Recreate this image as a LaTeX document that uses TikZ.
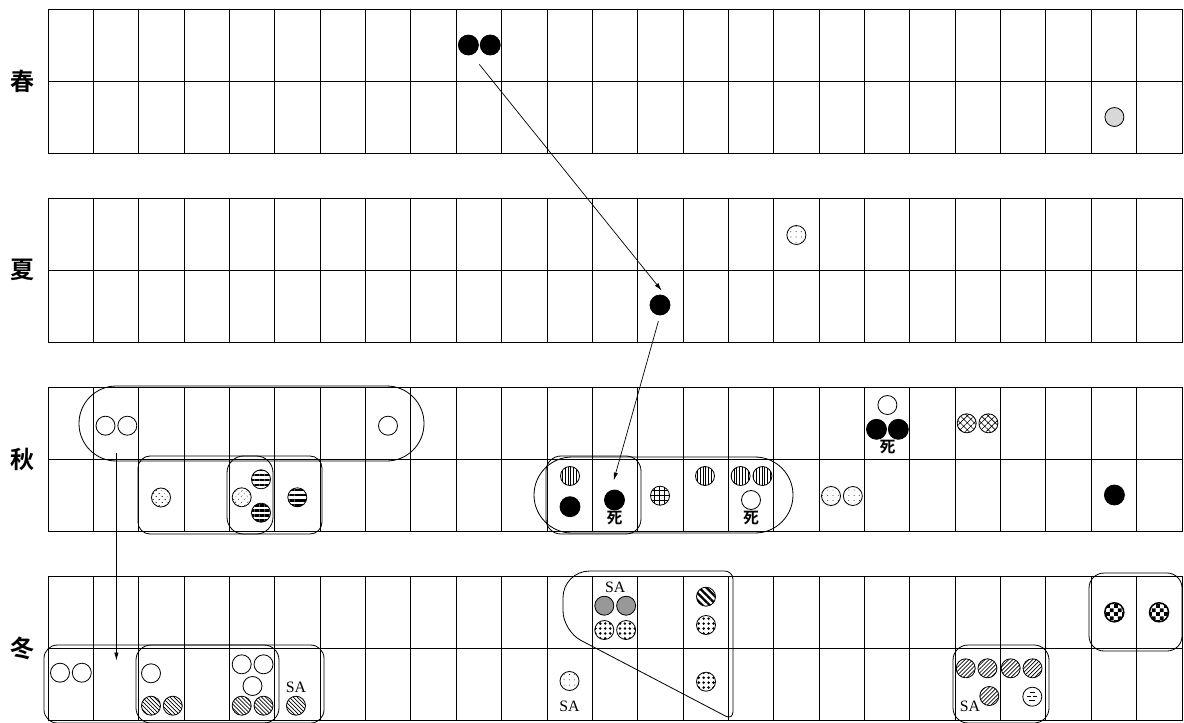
\documentclass[tikz,border=0pt]{standalone}
\usepackage{fontspec}
\setmainfont{Liberation Serif}
\newfontfamily\cjk{Noto Sans CJK JP}[BoldFont={Noto Sans CJK JP Bold}]
\usepackage{tikz}
\usetikzlibrary{arrows.meta, positioning, calc, patterns, patterns.meta}
\definecolor{ink}{RGB}{0, 0, 0}
\definecolor{palegrey}{RGB}{216, 216, 216}
\definecolor{midgrey}{RGB}{152, 152, 152}
\pgfdeclarepatternformonly{bigchecker}{\pgfpointorigin}{\pgfqpoint{7pt}{7pt}}{\pgfqpoint{7pt}{7pt}}{%
  \pgfpathrectangle{\pgfpointorigin}{\pgfqpoint{3.5pt}{3.5pt}}%
  \pgfpathrectangle{\pgfqpoint{3.5pt}{3.5pt}}{\pgfqpoint{3.5pt}{3.5pt}}%
  \pgfusepath{fill}}
\tikzset{
  gridline/.style={draw=ink, line width=0.75pt},
  groupbox/.style={draw=ink, line width=0.7pt},
  disc/.style={
    circle, draw=ink, line width=0.7pt,
    minimum size=0.57cm, inner sep=0pt
  },
  whitedisc/.style={disc, fill=white},
  blackdisc/.style={disc, fill=ink, minimum size=0.6cm},
  paledisc/.style={disc, fill=palegrey},
  greydisc/.style={disc, fill=midgrey},
  hstripedisc/.style={disc, pattern={Lines[angle=0, distance=4.3pt, line width=2pt]}},
  vstripedisc/.style={disc, pattern={Lines[angle=90, distance=2.4pt, line width=0.6pt]}},
  diagstripedisc/.style={disc, pattern={Lines[angle=-45, distance=4.3pt, line width=2pt]}},
  nwdisc/.style={disc, pattern={Lines[angle=-45, distance=2.4pt, line width=0.6pt]}},
  nedisc/.style={disc, pattern={Lines[angle=45, distance=2.4pt, line width=0.6pt]}},
  griddisc/.style={disc, pattern={Hatch[angle=0, distance=4.2pt, line width=0.6pt]}},
  crossdisc/.style={disc, pattern={Hatch[angle=45, distance=4.2pt, line width=0.5pt]}},
  densedotdisc/.style={disc, pattern={Dots[angle=45, distance=4pt, radius=0.6pt]}},
  sparsedisc/.style={disc, pattern={Dots[distance=4.5pt, radius=0.4pt]}},
  bigdotdisc/.style={disc, pattern={Dots[distance=4.2pt, radius=1.2pt]}},
  checkdisc/.style={disc, line width=1.3pt, pattern=bigchecker},
  dashdisc/.style={disc, path picture={
      \foreach \xa/\ya/\xb in {-2.5/-4/2.5, -5/0/-1, 1/0/5, -3/4/3}
        \draw[line width=0.6pt] ($(path picture bounding box.center)+(\xa,\ya)$)
          -- ($(path picture bounding box.center)+(\xb,\ya)$);}},
  season/.style={font=\cjk\bfseries\fontsize{20.5}{20.5}\selectfont},
  deathmark/.style={font=\cjk\bfseries\fontsize{13.5}{13.5}\selectfont, inner sep=0.5pt},
  satag/.style={font=\fontsize{13.5}{13.5}\selectfont, inner sep=0.5pt},
  flowline/.style={draw=ink, line width=0.6pt, -{Latex[length=2.4mm, width=1.3mm]}}
}
\begin{document}
\begin{tikzpicture}[x=0.03cm, y=-0.03cm]
  \useasboundingbox (0,0) rectangle (1184,722);

  % Grid: four seasons, two rows of 25 cells each
  \foreach \t in {9,198,387,576} {
    \draw[gridline] (48,\t) rectangle (1182,\t+144);
    \draw[gridline] (48,\t+72) -- (1182,\t+72);
    \foreach \k in {1,...,24}
      \draw[gridline] ({48+45.36*\k},\t) -- ({48+45.36*\k},\t+144);
  }

  % Season labels
  \node[season] (spring) at (23,81) {春};
  \node[season] (summer) at (23,270) {夏};
  \node[season] (autumn) at (23,459) {秋};
  \node[season] (winter) at (23,648) {冬};

  % Group outlines
  \draw[groupbox, rounded corners=1.12cm] (79,386) rectangle (424,461);
  \draw[groupbox, rounded corners=1.14cm] (534,457) rectangle (793,533);
  \draw[groupbox, rounded corners=0.36cm] (138,456) rectangle (322,534);
  \draw[groupbox, rounded corners=0.5cm] (227,456) rectangle (273,534);
  \draw[groupbox, rounded corners=0.45cm] (546,456) rectangle (641,534);
  \draw[groupbox, rounded corners=0.4cm] (44,645) rectangle (324,723);
  \draw[groupbox, rounded corners=0.45cm] (136,645) rectangle (279,723);
  \draw[groupbox] (648,571) [rounded corners=0.25cm] -- (733,571) -- (733,720)
    [rounded corners=0.6cm] -- (563,631) [rounded corners=0.8cm] -- (563,571) -- cycle;
  \draw[groupbox, rounded corners=0.45cm] (1089,573) rectangle (1182,651);
  \draw[groupbox, rounded corners=0.45cm] (953,645) rectangle (1049,723);

  % Spring
  \node[blackdisc] (sp1) at (468.4,45) {};
  \node[blackdisc, right=0.03cm of sp1] (sp2) {};
  \node[paledisc] (sp3) at (1114.4,117) {};

  % Summer
  \node[sparsedisc] (su1) at (796.4,235) {};
  \node[blackdisc] (su2) at (660,305) {};

  % Autumn: upper row
  \node[whitedisc] (au1) at (105.5,425.7) {};
  \node[whitedisc, right=0.06cm of au1] (au2) {};
  \node[whitedisc] (au3) at (388,425.7) {};
  \node[whitedisc] (au4) at (887.4,405) {};
  \node[blackdisc] (au5) at (876.5,429.3) {};
  \node[blackdisc, right=0.03cm of au5] (au6) {};
  \node[deathmark, anchor=north] (au7) at ($(au5.south)!0.5!(au6.south)$) {死};
  \node[crossdisc] (au8) at (966.7,423.3) {};
  \node[crossdisc, right=0.06cm of au8] (au9) {};

  % Autumn: lower row
  \node[densedotdisc] (au10) at (161,497.5) {};
  \node[densedotdisc] (au11) at (241.7,497.3) {};
  \node[hstripedisc] (au12) at (261,479.3) {};
  \node[hstripedisc] (au13) at (261,512.7) {};
  \node[hstripedisc] (au14) at (297.3,497.3) {};
  \node[vstripedisc] (au15) at (570,476) {};
  \node[blackdisc] (au16) at (570,506.7) {};
  \node[blackdisc] (au17) at (614.5,500) {};
  \node[deathmark, below=0pt of au17] (au18) {死};
  \node[griddisc] (au19) at (660,495.7) {};
  \node[vstripedisc] (au20) at (705,476) {};
  \node[vstripedisc] (au21) at (740.6,476) {};
  \node[vstripedisc, right=0.06cm of au21] (au22) {};
  \node[whitedisc] (au23) at (751,500) {};
  \node[deathmark, below=0pt of au23] (au24) {死};
  \node[sparsedisc] (au25) at (831,496) {};
  \node[sparsedisc, right=0.06cm of au25] (au26) {};
  \node[blackdisc] (au27) at (1114.4,495) {};

  % Winter
  \node[whitedisc] (wi1) at (60,672.7) {};
  \node[whitedisc, right=0.06cm of wi1] (wi2) {};
  \node[whitedisc] (wi3) at (151,673.3) {};
  \node[nwdisc] (wi4) at (151,705.7) {};
  \node[nwdisc, right=0.06cm of wi4] (wi5) {};
  \node[whitedisc] (wi6) at (241.7,664.3) {};
  \node[whitedisc, right=0.06cm of wi6] (wi7) {};
  \node[whitedisc] (wi8) at (252.5,686) {};
  \node[nwdisc] (wi9) at (241.7,705.7) {};
  \node[nwdisc, right=0.06cm of wi9] (wi10) {};
  \node[nwdisc] (wi11) at (296,705.7) {};
  \node[satag, above=0.06cm of wi11] (wi12) {SA};
  \node[sparsedisc] (wi13) at (569.5,681) {};
  \node[satag, below=0.28cm of wi13] (wi14) {SA};
  \node[greydisc] (wi15) at (604.3,605.7) {};
  \node[greydisc, right=0.06cm of wi15] (wi16) {};
  \node[satag, anchor=south, yshift=0.06cm] (wi17) at ($(wi15.north)!0.5!(wi16.north)$) {SA};
  \node[bigdotdisc] (wi18) at (604.3,630) {};
  \node[bigdotdisc, right=0.06cm of wi18] (wi19) {};
  \node[diagstripedisc] (wi20) at (706,596.7) {};
  \node[bigdotdisc] (wi21) at (706,625) {};
  \node[bigdotdisc] (wi22) at (706,681.7) {};
  \node[nedisc] (wi23) at (965.7,668.3) {};
  \node[nedisc, right=0.06cm of wi23] (wi24) {};
  \node[nedisc] (wi25) at (1010.7,668.3) {};
  \node[nedisc, right=0.06cm of wi25] (wi26) {};
  \node[nedisc] (wi27) at (989.3,696) {};
  \node[satag] (wi28) at (970,706.7) {SA};
  \node[dashdisc] (wi29) at (1032.3,696.7) {};
  \node[checkdisc] (wi30) at (1114.3,612.3) {};
  \node[checkdisc] (wi31) at (1159,612.3) {};

  % Movements between seasons
  \coordinate (sptail) at ($(sp1.south)!0.5!(sp2.south)+(0,9)$);
  \coordinate (autail) at ($(au1.south)!0.5!(au2.south)+(0,17)$);
  \coordinate (audrop) at ($(au1.south)!0.5!(au2.south)+(0,225)$);
  \draw[flowline, shorten >=0.27cm] (sptail) -- (su2.north east);
  \draw[flowline, shorten <=0.18cm, shorten >=0.3cm] (su2.south) -- (au17.110);
  \draw[flowline] (autail) -- (audrop);

\end{tikzpicture}
\end{document}
